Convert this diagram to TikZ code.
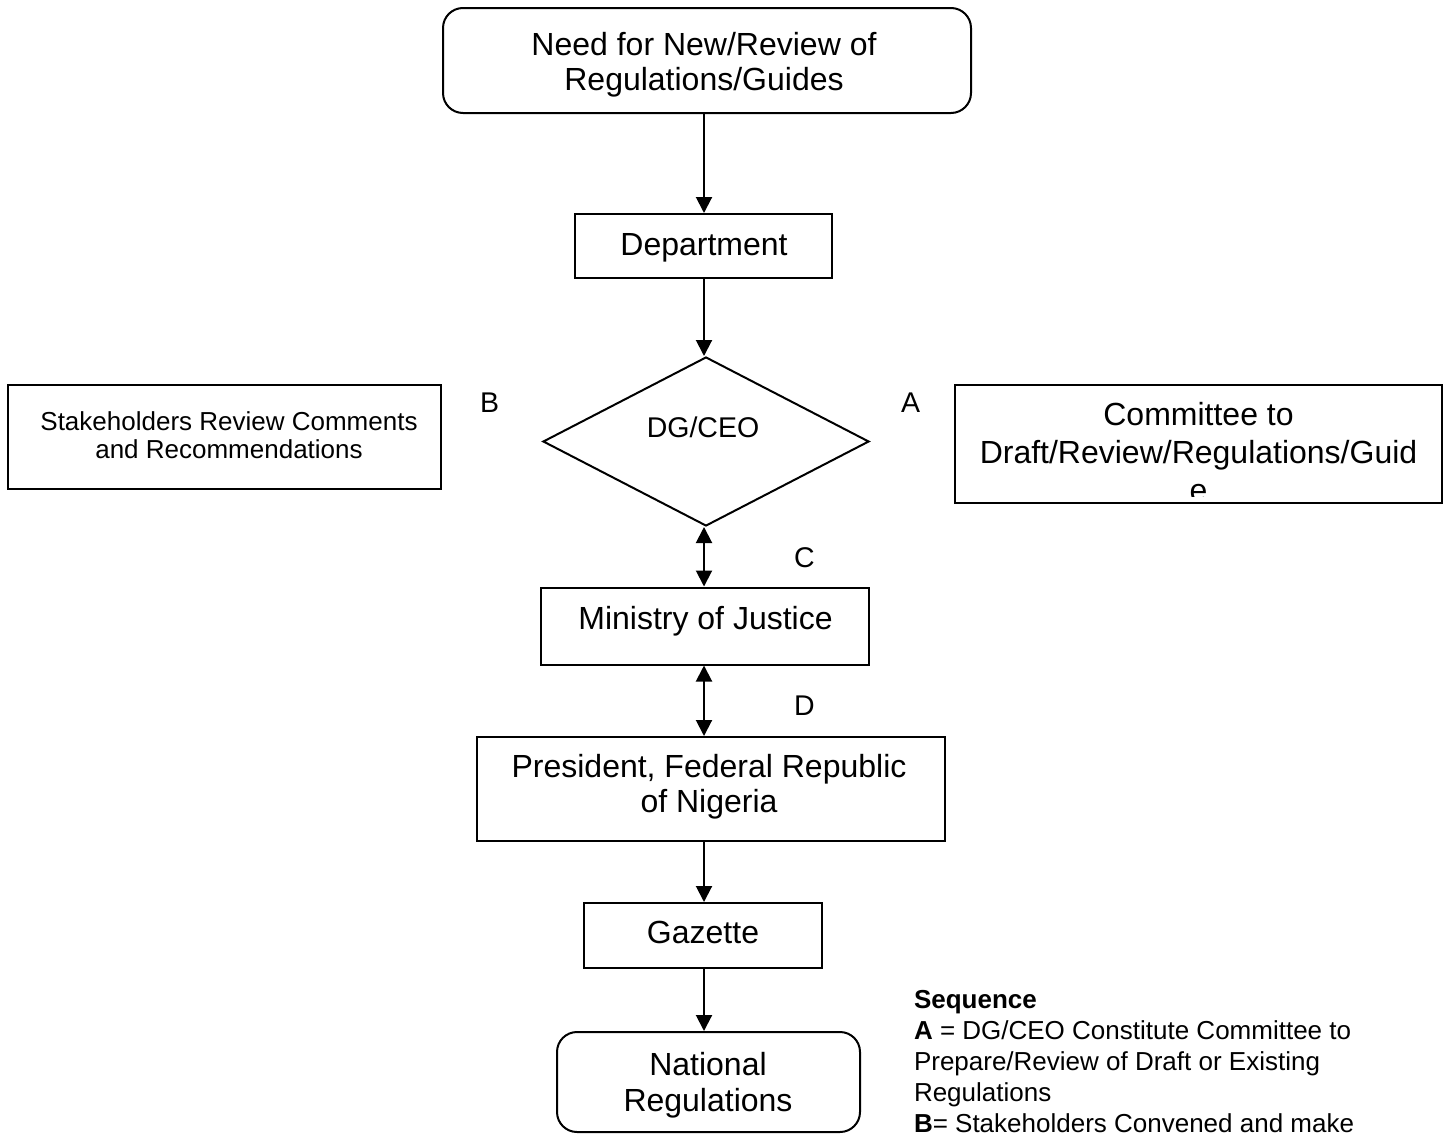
\documentclass[tikz,border=0pt]{standalone}
\usepackage{fontspec}
\setmainfont{Liberation Sans}
\usetikzlibrary{shapes.geometric,arrows.meta}

% centred / left-aligned line stacks whose baseline is the first line
\newcommand\ctrlines[1]{\begin{tabular}[t]{@{}c@{}}#1\end{tabular}}
\newcommand\leftlines[1]{\begin{tabular}[t]{@{}l@{}}#1\end{tabular}}

\begin{document}
\begin{tikzpicture}[x=1pt,y=-1pt,
  line width=2pt,
  box/.style={draw=black,line width=2pt,rectangle,inner sep=0pt},
  roundbox/.style={box,rounded corners=20pt},
  decision/.style={draw=black,line width=2pt,diamond,inner sep=0pt},
  bigtxt/.style={anchor=base,inner sep=0pt,font=\fontsize{32}{35}\selectfont},
  smalltxt/.style={anchor=base,inner sep=0pt,font=\fontsize{26}{28}\selectfont},
  midtxt/.style={anchor=base,inner sep=0pt,font=\fontsize{28.5}{32}\selectfont},
  flow/.style={-{Triangle[length=16pt,width=16pt]},line width=2pt},
  twoway/.style={{Triangle[length=16pt,width=16pt]}-{Triangle[length=16pt,width=16pt]},line width=2pt}]

\useasboundingbox (0,0) rectangle (1455,1135);
\fill[white] (0,0) rectangle (1455,1135);

% main column
\node[roundbox,minimum width=528pt,minimum height=105pt] (need) at (707,60.5) {};
\node[box,minimum width=257pt,minimum height=64pt] (dept) at (703.5,246) {};
\node[decision,minimum width=326pt,minimum height=169pt] (dg) at (706,441.5) {};
\node[box,minimum width=328pt,minimum height=77pt] (moj) at (705,626) {};
\node[box,minimum width=468pt,minimum height=104pt] (pres) at (711,789) {};
\node[box,minimum width=238pt,minimum height=65pt] (gaz) at (703,935.5) {};
\node[roundbox,minimum width=303pt,minimum height=100pt] (nat) at (708.5,1082) {};

% side boxes
\node[box,minimum width=433pt,minimum height=104pt] (stake) at (224.5,437) {};
\node[box,minimum width=487pt,minimum height=118pt] (comm) at (1198.5,444) {};

% box texts
\node[bigtxt] (need-t) at (704,55) {\ctrlines{Need for New/Review of\\Regulations/Guides}};
\node[bigtxt] (dept-t) at (704,255) {Department};
\node[midtxt] (dg-t) at (703,437) {DG/CEO};
\node[bigtxt] (moj-t) at (705.5,629) {Ministry of Justice};
\node[bigtxt] (pres-t) at (709,777) {\ctrlines{President, Federal Republic\\of Nigeria}};
\node[bigtxt] (gaz-t) at (703,943) {Gazette};
\node[bigtxt,font=\fontsize{32}{36}\selectfont] (nat-t) at (708,1075) {\ctrlines{National\\Regulations}};
\node[smalltxt] (stake-t) at (229,430) {\ctrlines{Stakeholders Review Comments\\and Recommendations}};
\begin{scope}
  \clip (956,386) rectangle (1441,496);
  \node[bigtxt,font=\fontsize{32}{38}\selectfont] (comm-t) at (1198.5,425)
    {\ctrlines{Committee to\\Draft/Review/Regulations/Guid\\e}};
\end{scope}

% sequence letters
\node[midtxt,anchor=base west] (lab-b) at (479,412) {B};
\node[midtxt,anchor=base west] (lab-a) at (900,412) {A};
\node[midtxt,anchor=base west] (lab-c) at (793,567) {C};
\node[midtxt,anchor=base west] (lab-d) at (793,715) {D};

% connectors along the spine
\coordinate (spine) at (704,0);
\draw[flow] (spine |- need.south) -- (spine |- dept.north);
\draw[flow] (spine |- dept.south) -- (spine |- dg.north);
\draw[twoway] (spine |- dg.south) -- (spine |- moj.north);
\draw[twoway] (spine |- moj.south) -- (spine |- pres.north);
\draw[flow] (spine |- pres.south) -- (spine |- gaz.north);
\draw[flow] (spine |- gaz.south) -- (spine |- nat.north);

% legend
\node[smalltxt,anchor=base west,font=\fontsize{26}{31}\selectfont] (legend) at (913,1008.5)
  {\leftlines{\textbf{Sequence}\\
   \textbf{A} = DG/CEO Constitute Committee to\\
   Prepare/Review of Draft or Existing\\
   Regulations\\
   \textbf{B}= Stakeholders Convened and make}};
\end{tikzpicture}
\end{document}
